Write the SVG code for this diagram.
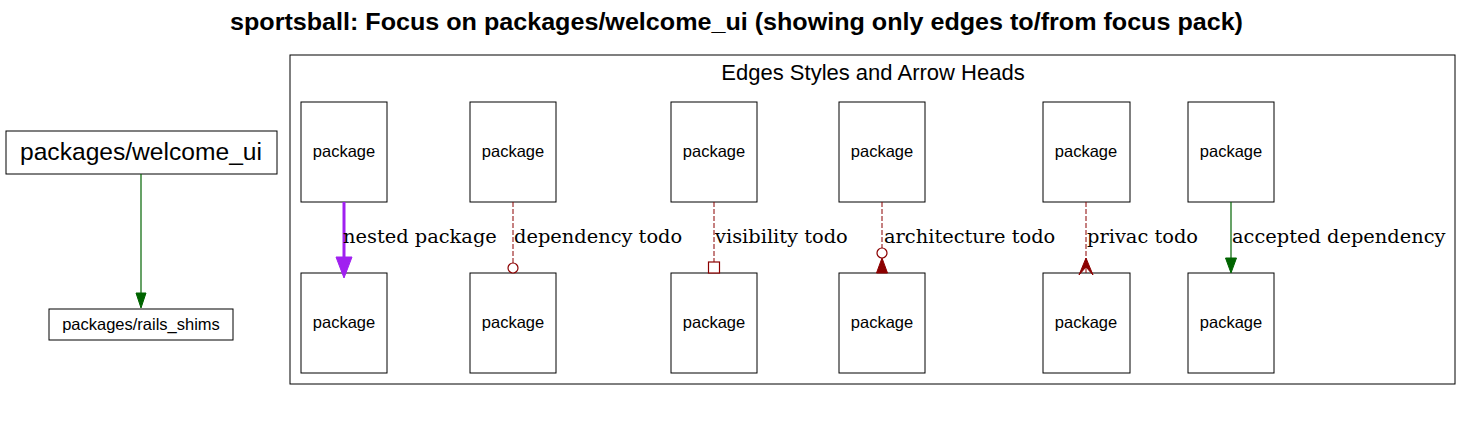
<svg xmlns="http://www.w3.org/2000/svg" width="1473" height="431" viewBox="0 0 1473 431">
<style>
.bg{fill:#fff}
.node{fill:#fff;stroke:#000;stroke-width:1}
.pk{font-family:"Liberation Sans",Arial,sans-serif;font-size:16.5px;text-anchor:middle;fill:#000}
.lbl{font-family:"DejaVu Serif","Liberation Serif",serif;font-size:19.4px;fill:#000}
.todo{stroke:#8b0000;stroke-width:1;stroke-dasharray:5,2;fill:none}
.red{stroke:#8b0000;fill:#fff;stroke-width:1.2}
.redf{stroke:#8b0000;fill:#8b0000;stroke-width:1}
.grn{stroke:#006400;stroke-width:1.2;fill:none}
.grnf{fill:#006400;stroke:#006400}
</style>
<rect class="bg" x="0" y="0" width="1473" height="431"/>
<text x="736.5" y="30" font-family="Liberation Sans,Arial,sans-serif" font-weight="bold" font-size="24.5" text-anchor="middle" textLength="1013" lengthAdjust="spacingAndGlyphs">sportsball: Focus on packages/welcome_ui (showing only edges to/from focus pack)</text>
<g id="cluster_legend">
<rect x="290" y="55" width="1165" height="329" fill="none" stroke="#000"/>
<text x="873" y="80" font-family="Liberation Sans,Arial,sans-serif" font-size="22" text-anchor="middle">Edges Styles and Arrow Heads</text>
</g>
<g id="node_welcome_ui">
<rect class="node" x="6" y="131" width="271" height="43"/>
<text x="141" y="160" font-family="Liberation Sans,Arial,sans-serif" font-size="24.6" text-anchor="middle">packages/welcome_ui</text>
</g>
<g id="node_rails_shims">
<rect class="node" x="49" y="309" width="184" height="31"/>
<text class="pk" x="141" y="330">packages/rails_shims</text>
</g>
<g id="legend_nodes">
<g id="n1a"><rect class="node" x="301" y="102" width="86" height="100"/><text class="pk" x="344" y="157">package</text></g>
<g id="n1b"><rect class="node" x="301" y="273" width="86" height="100"/><text class="pk" x="344" y="328">package</text></g>
<g id="n2a"><rect class="node" x="470" y="102" width="86" height="100"/><text class="pk" x="513" y="157">package</text></g>
<g id="n2b"><rect class="node" x="470" y="273" width="86" height="100"/><text class="pk" x="513" y="328">package</text></g>
<g id="n3a"><rect class="node" x="671" y="102" width="86" height="100"/><text class="pk" x="714" y="157">package</text></g>
<g id="n3b"><rect class="node" x="671" y="273" width="86" height="100"/><text class="pk" x="714" y="328">package</text></g>
<g id="n4a"><rect class="node" x="839" y="102" width="86" height="100"/><text class="pk" x="882" y="157">package</text></g>
<g id="n4b"><rect class="node" x="839" y="273" width="86" height="100"/><text class="pk" x="882" y="328">package</text></g>
<g id="n5a"><rect class="node" x="1043" y="102" width="87" height="100"/><text class="pk" x="1086" y="157">package</text></g>
<g id="n5b"><rect class="node" x="1043" y="273" width="87" height="100"/><text class="pk" x="1086" y="328">package</text></g>
<g id="n6a"><rect class="node" x="1188" y="102" width="86" height="100"/><text class="pk" x="1231" y="157">package</text></g>
<g id="n6b"><rect class="node" x="1188" y="273" width="86" height="100"/><text class="pk" x="1231" y="328">package</text></g>
</g>
<g id="connectors">
<line class="grn" x1="141" y1="174" x2="141" y2="293"/>
<polygon class="grnf" points="136,293 146,293 141,308"/>

<line x1="344" y1="202" x2="344" y2="258" stroke="#a020f0" stroke-width="3"/>
<polygon points="336,257 352,257 344,278" fill="#a020f0" stroke="#a020f0"/>
<text class="lbl" x="343" y="243">nested package</text>

<line class="todo" x1="513" y1="202" x2="513" y2="263"/>
<circle class="red" cx="513" cy="268" r="5"/>
<text class="lbl" x="514" y="243">dependency todo</text>

<line class="todo" x1="714" y1="202" x2="714" y2="262"/>
<rect class="red" x="708.5" y="262" width="11" height="11"/>
<text class="lbl" x="715" y="243">visibility todo</text>

<line class="todo" x1="882" y1="202" x2="882" y2="248"/>
<circle class="red" cx="882" cy="253" r="5"/>
<polygon class="redf" points="882,258 887.5,273 876.5,273"/>
<text class="lbl" x="884" y="243">architecture todo</text>

<line class="todo" x1="1086" y1="202" x2="1086" y2="258"/>
<polygon class="redf" points="1086,258 1093,275 1086,267 1079,275"/>
<line stroke="#8b0000" x1="1086" y1="258" x2="1086" y2="273"/>
<text class="lbl" x="1087" y="243">privac todo</text>

<line class="grn" x1="1231" y1="202" x2="1231" y2="259"/>
<polygon class="grnf" points="1225.5,258 1236.5,258 1231,273"/>
<text class="lbl" x="1232" y="243">accepted dependency</text>
</g>
</svg>
